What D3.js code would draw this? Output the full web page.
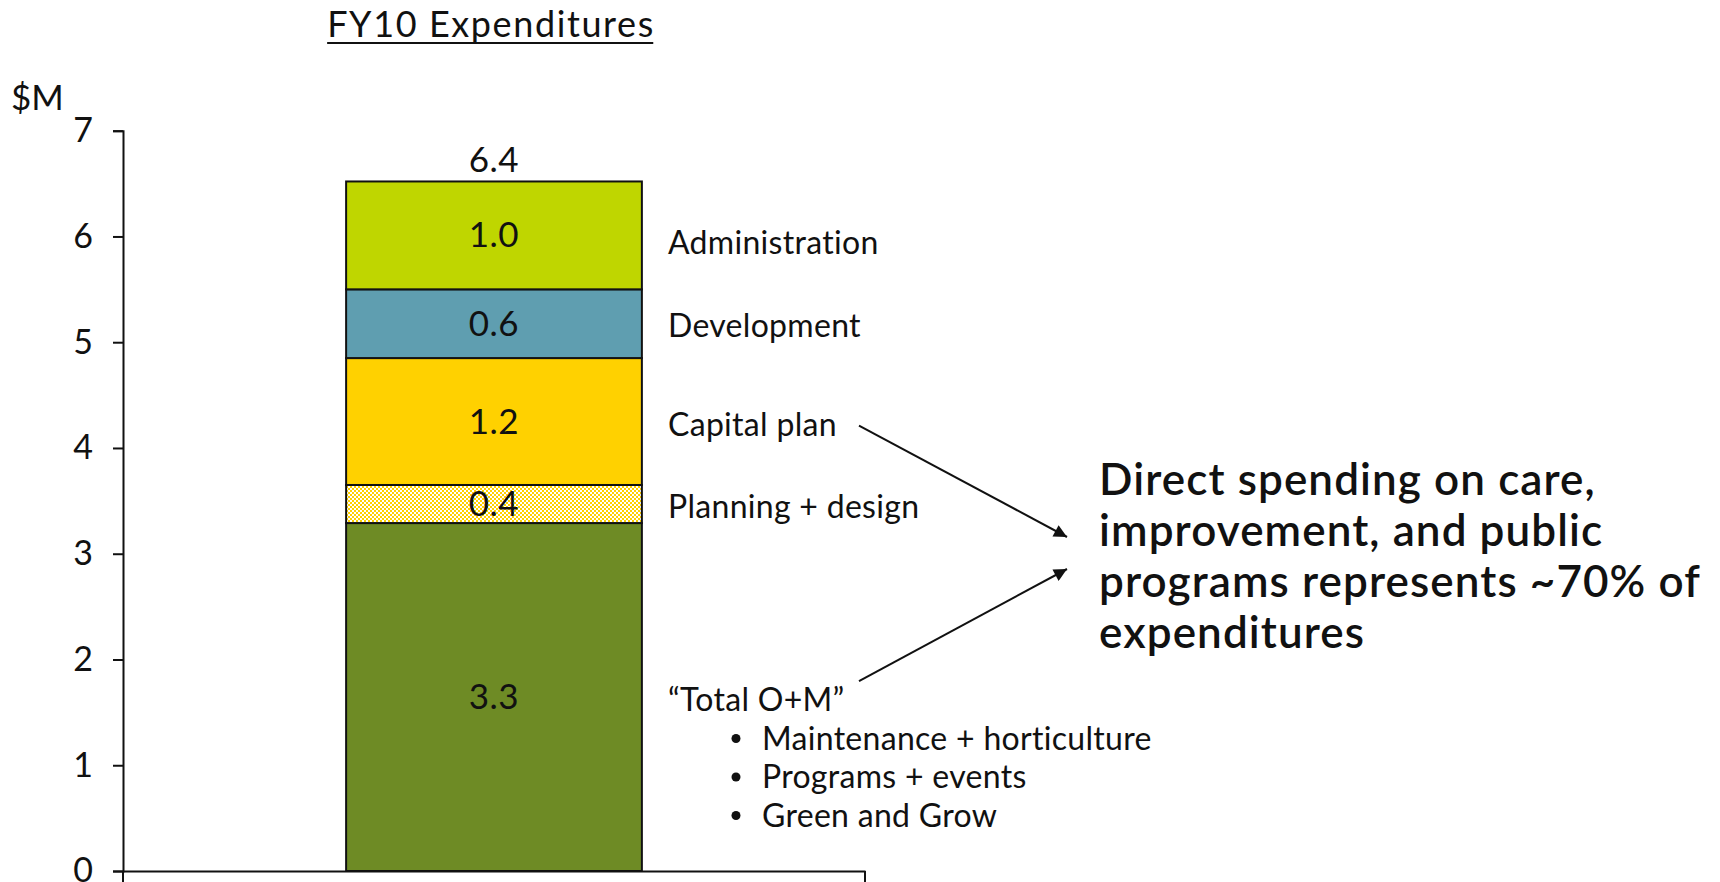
<!DOCTYPE html>
<html>
<head>
<meta charset="utf-8">
<script src="https://cdn.jsdelivr.net/npm/d3@7"></script>
<style>
  html, body { margin: 0; padding: 0; background: #ffffff; }
  svg { display: block; }
  text { font-family: Lato, "Noto Sans", sans-serif; fill: #111; }
</style>
</head>
<body>
<svg id="chart" width="1720" height="882"></svg>
<script>
// ---- data ----
const categories = ["FY10"];
const segmentNames = ["Total O+M", "Planning + design", "Capital plan", "Development", "Administration"];
const segmentValues = [3.29, 0.36, 1.20, 0.65, 1.02];
const segmentLabels = ["3.3", "0.4", "1.2", "0.6", "1.0"];
const totalLabel = "6.4";
const sideLabels = ["\u201CTotal O+M\u201D", "Planning + design", "Capital plan", "Development", "Administration"];
const omBullets = ["Maintenance + horticulture", "Programs + events", "Green and Grow"];
const yTicks = [0, 1, 2, 3, 4, 5, 6, 7];
const titleText = "FY10 Expenditures";
const unitText = "$M";
const calloutLines = ["Direct spending on care,", "improvement, and public", "programs represents ~70% of", "expenditures"];

// ---- layout ----
const m = { left: 123, top: 130.7, bottom: 871 };
const svg = d3.select("#chart");

const y = d3.scaleLinear().domain([0, 7]).range([m.bottom, m.top]);
const x = d3.scaleBand().domain(categories).range([m.left, 865]).paddingInner(0.43).paddingOuter(0.43);

const fills = ["#6E8B25", "url(#checker)", "#FFD100", "#5F9EB0", "#BFD600"];

// pattern
const defs = svg.append("defs");
const pat = defs.append("pattern").attr("id", "checker").attr("patternUnits", "userSpaceOnUse")
  .attr("width", 4).attr("height", 4);
pat.append("rect").attr("width", 4).attr("height", 4).attr("fill", "#ffffff");
pat.append("rect").attr("x", 0).attr("y", 0).attr("width", 2).attr("height", 2).attr("fill", "#FFD100");
pat.append("rect").attr("x", 2).attr("y", 2).attr("width", 2).attr("height", 2).attr("fill", "#FFD100");

// stack
const stackData = [];
let acc = 0;
segmentValues.forEach((v, i) => {
  stackData.push({ name: segmentNames[i], y0: acc, y1: acc + v, label: segmentLabels[i], side: sideLabels[i], fill: fills[i] });
  acc += v;
});
const total = acc;
const mid = d => (y(d.y0) + y(d.y1)) / 2;

// title
const title = svg.append("text").attr("x", 491).attr("y", 37).attr("text-anchor", "middle")
  .style("font-size", "36px").style("letter-spacing", "1.6px").text(titleText);
const tb = title.node().getBBox();
svg.append("line").attr("x1", tb.x).attr("x2", tb.x + tb.width - 1.6).attr("y1", 43).attr("y2", 43)
  .attr("stroke", "#111").attr("stroke-width", 2);

// unit label
svg.append("text").attr("x", 11).attr("y", 110).style("font-size", "35px").text(unitText);

// bars
const cx = x("FY10");
const bw = x.bandwidth();
const g = svg.append("g");
g.selectAll("rect.seg").data(stackData).join("rect")
  .attr("class", "seg")
  .attr("x", cx).attr("width", bw)
  .attr("y", d => y(d.y1)).attr("height", d => y(d.y0) - y(d.y1))
  .attr("fill", d => d.fill)
  .attr("stroke", "#111").attr("stroke-width", 2);

// segment labels
g.selectAll("text.seglab").data(stackData).join("text")
  .attr("class", "seglab")
  .attr("x", cx + bw / 2)
  .attr("y", d => mid(d) + 12)
  .attr("text-anchor", "middle").style("font-size", "35px").style("letter-spacing", "0.5px")
  .text(d => d.label);

// total label
g.append("text").attr("x", cx + bw / 2).attr("y", y(total) - 9)
  .attr("text-anchor", "middle").style("font-size", "35px").style("letter-spacing", "0.5px").text(totalLabel);

// side labels
const sideX = 668;
const sideFont = { size: "32px", ls: "0.3px" };
g.selectAll("text.side").data(stackData).join("text")
  .attr("class", "side")
  .attr("x", sideX)
  .attr("y", (d, i) => mid(d) + (i === 4 ? 19 : i === 3 ? 13 : 14))
  .style("font-size", sideFont.size).style("letter-spacing", sideFont.ls)
  .text(d => d.side);

// bullets under O+M
const omY = mid(stackData[0]) + 14;
omBullets.forEach((t, i) => {
  const by = omY + 38.5 * (i + 1);
  g.append("circle").attr("cx", 736).attr("cy", by - 11).attr("r", 4.5).attr("fill", "#111");
  g.append("text").attr("x", 762).attr("y", by)
    .style("font-size", sideFont.size).style("letter-spacing", sideFont.ls).text(t);
});

// axes
const yAxis = d3.axisLeft(y).tickValues(yTicks).tickSize(10).tickPadding(20).tickFormat(d3.format("d"));
const ya = svg.append("g").attr("transform", `translate(${m.left},0)`).call(yAxis);
ya.selectAll("text").style("font-size", "34px").style("font-family", "Lato, sans-serif").attr("fill", "#111");
ya.selectAll("line").attr("stroke", "#111").attr("stroke-width", 2);
ya.select(".domain").attr("stroke", "#111").attr("stroke-width", 2);

const xa = svg.append("g").attr("transform", `translate(0,${m.bottom})`)
  .call(d3.axisBottom(x).tickSize(0).tickSizeOuter(0).tickFormat(""));
xa.select(".domain").attr("stroke", "#111").attr("stroke-width", 2);
const r = x.range();
xa.selectAll("line.bound").data(r).join("line").attr("class", "bound")
  .attr("x1", d => d).attr("x2", d => d).attr("y1", 0).attr("y2", 14)
  .attr("stroke", "#111").attr("stroke-width", 2);

// callout
const cal = svg.append("text").attr("x", 1099).attr("y", 495)
  .style("font-size", "44px").style("font-weight", 600).style("letter-spacing", "1.1px");
calloutLines.forEach((t, i) => {
  cal.append("tspan").attr("x", 1099).attr("y", 495 + 51 * i).text(t);
});

// arrows
defs.append("marker").attr("id", "arrowhead").attr("viewBox", "0 0 10 10")
  .attr("refX", 10).attr("refY", 5).attr("markerWidth", 17).attr("markerHeight", 13)
  .attr("markerUnits", "userSpaceOnUse").attr("orient", "auto")
  .append("path").attr("d", "M0,0 L10,5 L0,10 z").attr("fill", "#111");

const capY = mid(stackData[2]);
const arrows = [
  { x1: 859, y1: capY + 4, x2: 1067, y2: 537 },
  { x1: 859, y1: omY - 30, x2: 1067, y2: 569 }
];
svg.selectAll("line.arrow").data(arrows).join("line").attr("class", "arrow")
  .attr("x1", d => d.x1).attr("y1", d => d.y1).attr("x2", d => d.x2).attr("y2", d => d.y2)
  .attr("stroke", "#111").attr("stroke-width", 2).attr("marker-end", "url(#arrowhead)");
</script>
</body>
</html>
